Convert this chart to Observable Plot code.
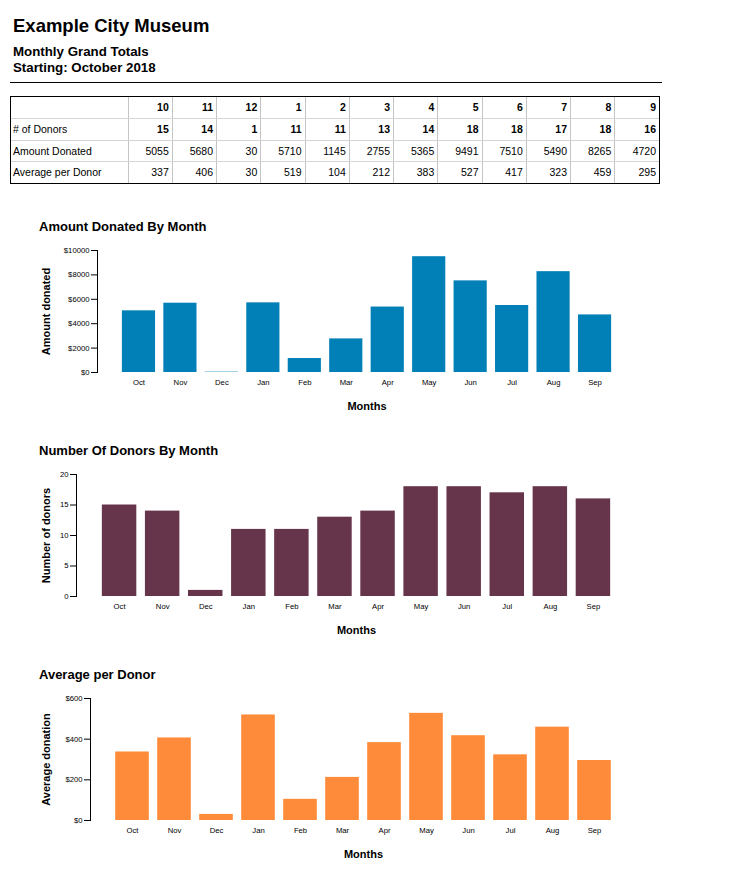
<!DOCTYPE html>
<html>
<head>
<meta charset="utf-8">
<script src="https://cdn.jsdelivr.net/npm/d3@7"></script>
<script src="https://cdn.jsdelivr.net/npm/@observablehq/plot@0.6"></script>
<style>
  body { margin: 0; background: #fff; color: #000; font-family: "Liberation Sans", Arial, sans-serif; }
  #page { position: relative; width: 751px; height: 885px; overflow: hidden; }
  .abs { position: absolute; line-height: 1; white-space: nowrap; }
  .h1 { left: 13px; top: 16.5px; font-size: 18.5px; font-weight: bold; }
  .h2 { left: 13px; font-size: 13.3px; font-weight: bold; }
  .rule { left: 10px; top: 82px; width: 652px; height: 0; border-top: 1px solid #000; }
  .tblwrap { left: 10px; top: 96px; width: 648px; border: 1px solid #000; }
  table { width: 100%; border-collapse: collapse; table-layout: fixed; font-size: 10.5px; }
  td { border-right: 1px solid #c4c4c4; border-bottom: 1px solid #d4d4d4; padding: 0 3px; height: 20.75px; text-align: right; line-height: 1; overflow: hidden; }
  td:first-child { text-align: left; padding-left: 2px; }
  td:last-child { border-right: none; }
  tr:last-child td { border-bottom: none; }
  .b { font-weight: bold; }
  .ctitle { left: 39px; font-size: 13px; font-weight: bold; }
  .chart { position: absolute; left: 0; }
  .chart [aria-label="y-axis label"], .chart [aria-label="x-axis label"] { font-size: 11px; font-weight: bold; }
</style>
</head>
<body>
<div id="page">
  <div class="abs h1">Example City Museum</div>
  <div class="abs h2" style="top:44.7px">Monthly Grand Totals</div>
  <div class="abs h2" style="top:60.7px">Starting: October 2018</div>
  <div class="abs rule"></div>
  <div class="abs tblwrap"><table id="tbl"></table></div>
</div>
<script>
// ---- data ----
const monthNumbers = [10, 11, 12, 1, 2, 3, 4, 5, 6, 7, 8, 9];
const monthNames = ["Oct", "Nov", "Dec", "Jan", "Feb", "Mar", "Apr", "May", "Jun", "Jul", "Aug", "Sep"];
const donors = [15, 14, 1, 11, 11, 13, 14, 18, 18, 17, 18, 16];
const amounts = [5055, 5680, 30, 5710, 1145, 2755, 5365, 9491, 7510, 5490, 8265, 4720];
const averages = [337, 406, 30, 519, 104, 212, 383, 527, 417, 323, 459, 295];

const amountTicks = [0, 2000, 4000, 6000, 8000, 10000];
const donorTicks = [0, 5, 10, 15, 20];
const averageTicks = [0, 200, 400, 600];

// ---- table ----
const tbl = document.getElementById("tbl");
const colgroup = document.createElement("colgroup");
const c0 = document.createElement("col"); c0.style.width = "117px"; colgroup.appendChild(c0);
monthNumbers.forEach(() => colgroup.appendChild(document.createElement("col")));
tbl.appendChild(colgroup);
function addRow(label, values, bold) {
  const tr = document.createElement("tr");
  const th = document.createElement("td"); th.textContent = label; tr.appendChild(th);
  values.forEach(v => { const td = document.createElement("td"); td.textContent = v; if (bold) td.className = "b"; tr.appendChild(td); });
  tbl.appendChild(tr);
}
addRow("", monthNumbers, true);
addRow("# of Donors", donors, true);
addRow("Amount Donated", amounts, false);
addRow("Average per Donor", averages, false);

// ---- charts ----
const page = document.getElementById("page");
function chart({title, values, color, domain, ticks, fmt, ylabel, frameTop, marginLeft}) {
  const t = document.createElement("div");
  t.className = "abs ctitle"; t.style.top = (frameTop - 30) + "px"; t.textContent = title;
  page.appendChild(t);
  const data = monthNames.map((m, i) => ({month: m, value: values[i]}));
  const marginTop = 10, marginBottom = 44, frameH = 122;
  const p = Plot.plot({
    width: 660,
    height: marginTop + frameH + marginBottom,
    marginTop, marginBottom, marginLeft, marginRight: 24,
    style: {fontFamily: "'Liberation Sans', Arial, sans-serif", fontSize: "7.7px", background: "transparent", overflow: "visible"},
    x: {type: "band", domain: monthNames, paddingInner: 0.2, paddingOuter: 0.6, round: false},
    y: {domain},
    marks: [
      Plot.barY(data, {x: "month", y: "value", fill: color}),
      Plot.frame({anchor: "left"}),
      Plot.axisY({ticks, tickFormat: fmt, tickSize: 6, tickPadding: 2, label: ylabel, labelAnchor: "center", labelArrow: "none", labelOffset: marginLeft - 41.5}),
      Plot.axisX({tickSize: 0, tickPadding: 7, label: "Months", labelAnchor: "center", labelArrow: "none", labelOffset: 37})
    ]
  });
  const wrap = document.createElement("div");
  wrap.className = "chart"; wrap.style.top = (frameTop - marginTop) + "px";
  wrap.appendChild(p);
  page.appendChild(wrap);
}
chart({title: "Amount Donated By Month", values: amounts, color: "#017fb7", domain: [0, 10000], ticks: amountTicks, fmt: d => "$" + d, ylabel: "Amount donated", frameTop: 250, marginLeft: 97});
chart({title: "Number Of Donors By Month", values: donors, color: "#66354b", domain: [0, 20], ticks: donorTicks, fmt: d => String(d), ylabel: "Number of donors", frameTop: 474, marginLeft: 76});
chart({title: "Average per Donor", values: averages, color: "#fe8b3a", domain: [0, 600], ticks: averageTicks, fmt: d => "$" + d, ylabel: "Average donation", frameTop: 698, marginLeft: 90});
</script>
</body>
</html>
